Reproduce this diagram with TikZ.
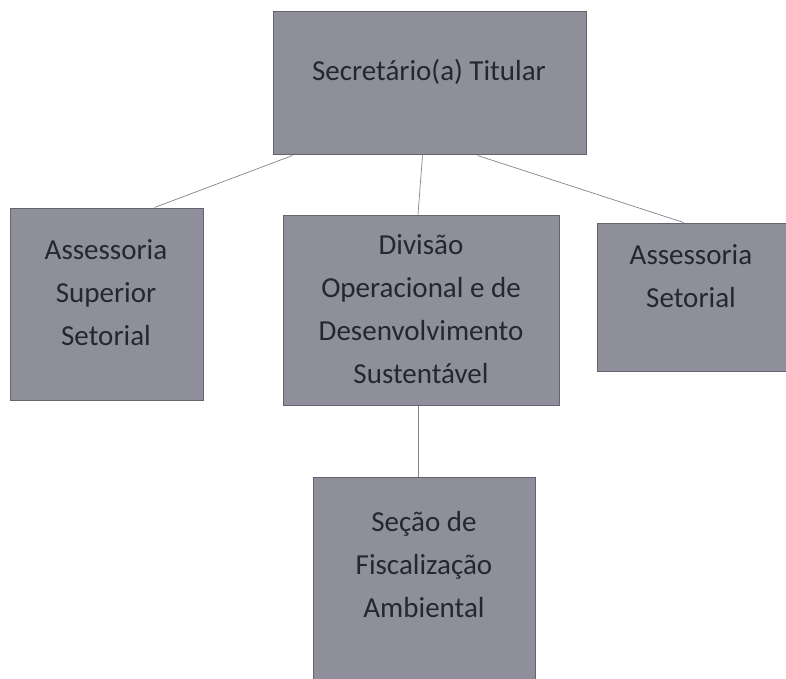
\documentclass[tikz,border=0pt]{standalone}
\usepackage{fontspec}
\setmainfont{Carlito}
\usetikzlibrary{positioning}
\definecolor{boxgray}{RGB}{143,143,155}
\definecolor{boxedge}{RGB}{100,100,110}
\definecolor{txtgray}{RGB}{38,38,48}
\definecolor{linkgray}{RGB}{130,130,140}
\begin{document}
\begin{tikzpicture}[x=1pt,y=-1pt,
  box/.style={draw=boxedge, fill=boxgray, line width=1pt, inner sep=0pt},
  txt/.style={text=txtgray, align=center, inner sep=0pt, font=\fontsize{29}{43}\selectfont},
  link/.style={draw=linkgray, line width=0.7pt}]
\useasboundingbox (0,0) rectangle (786,679);

% boxes
\node[box, minimum width=313pt, minimum height=143pt] (sec) at (429.5,83.5) {};
\node[box, minimum width=193pt, minimum height=192pt] (ass) at (106.5,304) {};
\node[box, minimum width=276pt, minimum height=190pt] (div) at (421,310) {};
\node[box, minimum width=189pt, minimum height=148pt] (aset) at (691.5,297) {};
\node[box, minimum width=222pt, minimum height=204pt] (fisc) at (424,579) {};

% texts
\node[txt] (sec-t) at (429,72) {Secretário(a) Titular};
\node[txt] (ass-t) at (106,293) {Assessoria\\Superior\\Setorial};
\node[txt] (div-t) at (421,309) {Divisão\\Operacional e de\\Desenvolvimento\\Sustentável};
\node[txt] (aset-t) at (691,276) {Assessoria\\Setorial};
\node[txt] (fisc-t) at (424,565) {Seção de\\Fiscalização\\Ambiental};

% links
\draw[link] ([xshift=20pt]sec.south west) -- ([xshift=48pt]ass.north);
\draw[link] ([xshift=-7pt]sec.south) -- ([xshift=-3pt]div.north);
\draw[link] ([xshift=-109pt]sec.south east) -- ([xshift=-8pt]aset.north);
\draw[link] ([xshift=-3pt]div.south) -- ([xshift=-6pt]fisc.north);
\end{tikzpicture}
\end{document}
